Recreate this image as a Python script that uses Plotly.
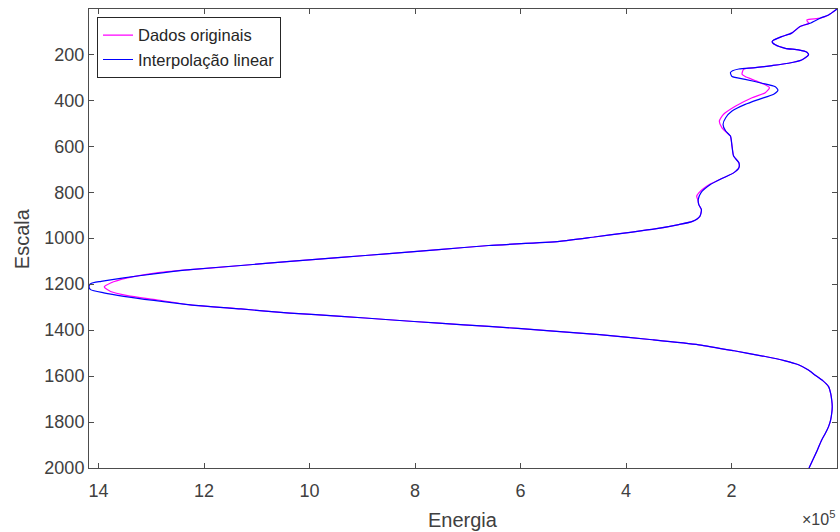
import plotly.graph_objects as go

# ---- Data (Energia in units of 10^5) ----
escala_interp = [3, 29, 43, 65, 79, 108, 123, 138, 145, 159, 174, 181, 191, 203, 225, 239,
                 249, 258, 264, 272, 280, 297, 309, 326, 341, 356, 374, 396, 418, 447,
                 476, 505, 534, 556, 600, 643, 672, 694, 716, 737, 767, 803, 832, 854,
                 876, 905, 927, 941, 960, 977, 995, 1014, 1032, 1050, 1067, 1084, 1101,
                 1119, 1137, 1155, 1173, 1188, 1198, 1211, 1224, 1238, 1253, 1271, 1290,
                 1308, 1326, 1340, 1355, 1370, 1384, 1402, 1420, 1442, 1464, 1490, 1515,
                 1533, 1551, 1573, 1595, 1620, 1646, 1675, 1704, 1733, 1762, 1791, 1820,
                 1849, 1878, 1936, 2000]
energia_interp = [0.00, 0.16, 0.32, 0.51, 0.70, 0.86, 1.05, 1.20, 1.23, 1.17, 0.98, 0.73,
                  0.57, 0.54, 0.67, 0.92, 1.23, 1.55, 1.86, 1.98, 2.02, 1.99, 1.74, 1.42,
                  1.17, 1.12, 1.20, 1.48, 1.74, 1.99, 2.11, 2.16, 2.11, 2.02, 1.99, 1.96,
                  1.86, 1.86, 1.96, 2.15, 2.40, 2.58, 2.63, 2.62, 2.57, 2.60, 2.74, 3.00,
                  3.45, 4.00, 4.60, 5.26, 6.60, 7.55, 8.49, 9.40, 10.37, 11.30, 12.26,
                  12.95, 13.52, 13.95, 14.15, 14.18, 14.15, 13.90, 13.52, 12.95, 12.26,
                  11.30, 10.37, 9.40, 8.49, 7.55, 6.60, 5.50, 4.50, 3.50, 2.62, 1.95, 1.36,
                  1.00, 0.73, 0.55, 0.42, 0.27, 0.16, 0.12, 0.10, 0.09, 0.10, 0.12, 0.16,
                  0.22, 0.29, 0.40, 0.53]

escala_orig = [3, 29, 43, 50, 58, 65, 79, 108, 123, 138, 145, 159, 174, 181, 191, 203, 225,
               239, 249, 258, 265, 287, 297, 321, 345, 367, 389, 425, 461, 491, 520, 549,
               556, 600, 643, 672, 694, 716, 737, 767, 803, 818, 832, 854, 876, 905, 927,
               941, 960, 977, 995, 1014, 1032, 1050, 1067, 1084, 1101, 1119, 1137, 1151,
               1173, 1195, 1212, 1232, 1250, 1268, 1290, 1308, 1326, 1340, 1355, 1370,
               1384, 1402, 1420, 1442, 1464, 1490, 1515, 1533, 1551, 1573, 1595, 1620,
               1646, 1675, 1704, 1733, 1762, 1791, 1820, 1849, 1878, 1936, 2000]
energia_orig = [0.00, 0.16, 0.32, 0.57, 0.56, 0.53, 0.70, 0.86, 1.05, 1.20, 1.23, 1.17,
                0.98, 0.73, 0.57, 0.54, 0.67, 0.92, 1.23, 1.55, 1.77, 1.80, 1.74, 1.48,
                1.28, 1.36, 1.61, 1.92, 2.15, 2.23, 2.18, 2.05, 2.02, 1.99, 1.96, 1.86,
                1.86, 1.96, 2.15, 2.42, 2.62, 2.66, 2.64, 2.62, 2.57, 2.60, 2.74, 3.00,
                3.45, 4.00, 4.60, 5.26, 6.60, 7.55, 8.49, 9.40, 10.37, 11.30, 12.26,
                12.90, 13.45, 13.77, 13.89, 13.77, 13.45, 12.90, 12.26, 11.30, 10.37,
                9.40, 8.49, 7.55, 6.60, 5.50, 4.50, 3.50, 2.62, 1.95, 1.36, 1.00, 0.73,
                0.55, 0.42, 0.27, 0.16, 0.12, 0.10, 0.09, 0.10, 0.12, 0.16, 0.22, 0.29,
                0.40, 0.53]

x_ticks = [2, 4, 6, 8, 10, 12, 14]
y_ticks = [200, 400, 600, 800, 1000, 1200, 1400, 1600, 1800, 2000]
fator = 1e5

font_family = "Liberation Sans, Arial, Helvetica, sans-serif"
txt_color = "#404040"
ax_color = "#4d4d4d"

fig = go.Figure()
fig.add_trace(go.Scatter(
    x=[v * fator for v in energia_orig], y=escala_orig, mode="lines",
    name="Dados originais", line=dict(color="#ff00ff", width=1.2, shape="spline", smoothing=0.6)))
fig.add_trace(go.Scatter(
    x=[v * fator for v in energia_interp], y=escala_interp, mode="lines",
    name="Interpolação linear", line=dict(color="#0000ff", width=1.2, shape="spline", smoothing=0.6)))

fig.update_layout(
    width=840, height=532,
    margin=dict(l=89, r=3, t=9, b=64),
    plot_bgcolor="white", paper_bgcolor="white",
    font=dict(family=font_family, size=18, color=txt_color),
    showlegend=True,
    legend=dict(x=0.0107, y=0.983, xanchor="left", yanchor="top",
                bgcolor="white", bordercolor="#262626", borderwidth=1,
                font=dict(size=16.5, color="#262626"),
                tracegroupgap=0, itemwidth=30),
    xaxis=dict(
        range=[14.18 * fator, 0.0],
        tickvals=[t * fator for t in x_ticks],
        ticktext=[str(t) for t in x_ticks],
        ticks="inside", ticklen=5, tickcolor=ax_color, tickwidth=1,
        showline=True, linecolor=ax_color, linewidth=1, mirror="ticks",
        showgrid=False, zeroline=False, automargin=False,
        ticklabelstandoff=6,
    ),
    yaxis=dict(
        range=[2000, 3],
        tickvals=y_ticks,
        ticks="inside", ticklen=5, tickcolor=ax_color, tickwidth=1,
        showline=True, linecolor=ax_color, linewidth=1, mirror="ticks",
        showgrid=False, zeroline=False, automargin=False,
    ),
    annotations=[
        dict(text="Energia", xref="paper", yref="paper", x=0.5, y=-0.085,
             xanchor="center", yanchor="top", showarrow=False,
             font=dict(size=20, color=txt_color)),
        dict(text="Escala", xref="paper", yref="paper", x=-0.09, y=0.5,
             xanchor="center", yanchor="middle", textangle=-90, showarrow=False,
             font=dict(size=20, color=txt_color)),
        dict(text="×10<sup>5</sup>", xref="paper", yref="paper", x=1.0, y=-0.083,
             xanchor="right", yanchor="top", showarrow=False,
             font=dict(size=16, color=txt_color)),
    ],
)

fig.write_html("out.html", config={"displayModeBar": False},
               post_script="document.body.style.margin='0';document.body.style.overflow='hidden';")
